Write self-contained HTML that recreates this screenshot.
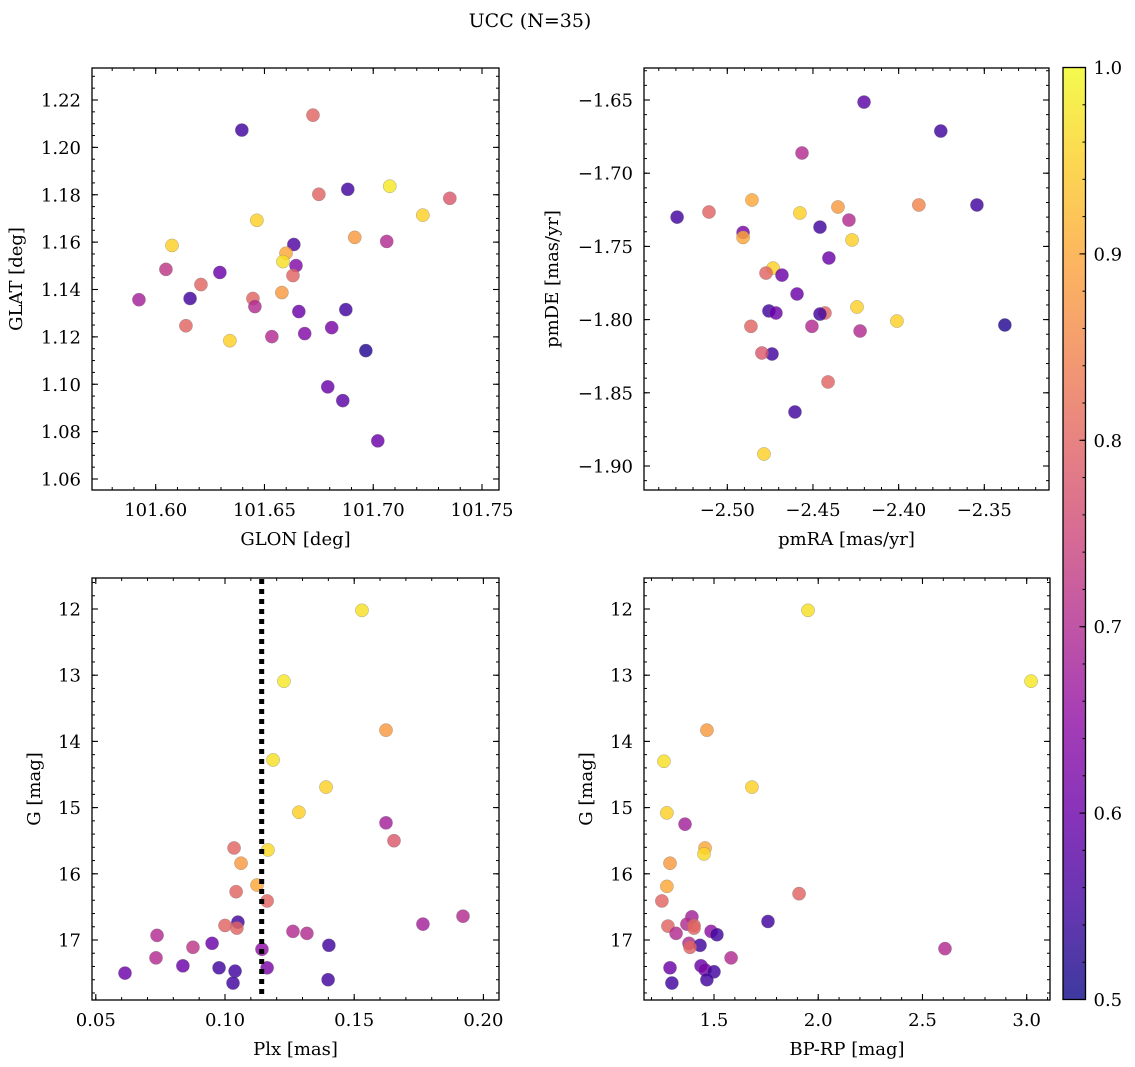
<!DOCTYPE html>
<html><head><meta charset="utf-8"><style>
html,body{margin:0;padding:0;background:#fff;}
svg{display:block;font-family:"DejaVu Serif","Liberation Serif",serif;}
</style></head><body>
<svg id="fig" width="1135" height="1067" viewBox="0 0 1135 1067" xmlns="http://www.w3.org/2000/svg">
<defs>
<linearGradient id="plasma" x1="0" y1="1" x2="0" y2="0">
<stop offset="0" stop-color="#0d0887"/><stop offset="0.1" stop-color="#41049d"/><stop offset="0.2" stop-color="#6a00a8"/><stop offset="0.3" stop-color="#8f0da4"/><stop offset="0.4" stop-color="#b12a90"/><stop offset="0.5" stop-color="#cc4778"/><stop offset="0.6" stop-color="#e16462"/><stop offset="0.7" stop-color="#f2844b"/><stop offset="0.8" stop-color="#fca636"/><stop offset="0.9" stop-color="#fcce25"/><stop offset="1" stop-color="#f0f921"/>
</linearGradient>
</defs>
<text x="530" y="27" font-size="19" text-anchor="middle">UCC (N=35)</text>
</svg>
<script>
// Panel 1: GLON vs GLAT
const glon = [101.6396,101.6723,101.6883,101.7076,101.6750,101.7352,101.7228,101.6465,101.6075,101.6635,101.6915,101.7062,101.6047,101.6295,101.6599,101.6585,101.6645,101.6631,101.6208,101.6580,101.5923,101.6158,101.6447,101.6456,101.6658,101.6874,101.6139,101.6685,101.6809,101.6534,101.6341,101.6966,101.6791,101.6860,101.7021];
const glat = [1.2073,1.2136,1.1823,1.1836,1.1802,1.1785,1.1714,1.1692,1.1586,1.1590,1.1620,1.1603,1.1485,1.1472,1.1553,1.1518,1.1501,1.1459,1.1421,1.1387,1.1357,1.1362,1.1362,1.1328,1.1307,1.1315,1.1247,1.1214,1.1239,1.1201,1.1184,1.1142,1.0989,1.0931,1.0761];
const prob1 = [0.55,0.8,0.55,0.98,0.8,0.78,0.95,0.95,0.95,0.57,0.88,0.7,0.72,0.6,0.9,0.97,0.63,0.8,0.8,0.88,0.68,0.55,0.8,0.7,0.6,0.55,0.8,0.63,0.62,0.7,0.95,0.52,0.6,0.58,0.6];
// Panel 2: pmRA vs pmDE
const pmra = [-2.4202,-2.3754,-2.4564,-2.5293,-2.5107,-2.4856,-2.4576,-2.4354,-2.3882,-2.3543,-2.4908,-2.4908,-2.4459,-2.4290,-2.4272,-2.4407,-2.4733,-2.4774,-2.4681,-2.4593,-2.4243,-2.4757,-2.4716,-2.4430,-2.4459,-2.4010,-2.4506,-2.4862,-2.4225,-2.3380,-2.4739,-2.4798,-2.4412,-2.4605,-2.4786];
const pmde = [-1.6514,-1.6712,-1.6862,-1.7300,-1.7265,-1.7183,-1.7272,-1.7231,-1.7217,-1.7217,-1.7405,-1.7439,-1.7368,-1.7320,-1.7456,-1.7579,-1.7648,-1.7682,-1.7696,-1.7825,-1.7914,-1.7941,-1.7955,-1.7955,-1.7962,-1.8010,-1.8046,-1.8046,-1.8078,-1.8037,-1.8235,-1.8228,-1.8426,-1.8631,-1.8918];
const prob2 = [0.58,0.55,0.7,0.55,0.8,0.9,0.95,0.88,0.85,0.55,0.62,0.9,0.55,0.7,0.95,0.6,0.95,0.8,0.6,0.6,0.95,0.55,0.6,0.8,0.55,0.95,0.7,0.8,0.7,0.52,0.55,0.78,0.8,0.55,0.95];
// Panel 3: Plx vs G
const plx = [0.1530,0.1228,0.1623,0.1186,0.1391,0.1286,0.1623,0.1654,0.1035,0.1166,0.1062,0.1124,0.1043,0.1163,0.1921,0.1766,0.1050,0.1000,0.1046,0.1263,0.1317,0.0737,0.0950,0.1402,0.0876,0.1143,0.0733,0.0837,0.0977,0.1163,0.0613,0.1039,0.1031,0.1399];
const gmag3 = [12.02,13.09,13.83,14.28,14.69,15.07,15.23,15.50,15.61,15.64,15.84,16.17,16.27,16.41,16.64,16.76,16.73,16.78,16.82,16.87,16.90,16.93,17.05,17.08,17.11,17.14,17.27,17.39,17.42,17.42,17.50,17.47,17.65,17.60];
const prob3 = [0.97,0.98,0.88,0.97,0.95,0.95,0.68,0.78,0.8,0.96,0.88,0.9,0.8,0.8,0.7,0.68,0.55,0.8,0.8,0.7,0.7,0.7,0.6,0.55,0.72,0.65,0.7,0.6,0.55,0.62,0.6,0.55,0.55,0.55];
const plxCut = [0.1142];
// Panel 4: BP-RP vs G
const bprp = [1.951,3.021,1.466,1.260,1.682,1.274,1.361,1.457,1.452,1.289,1.274,1.908,1.250,1.394,1.759,1.370,1.404,1.279,1.404,1.486,1.318,1.514,1.380,1.433,1.385,2.608,1.582,1.289,1.438,1.457,1.500,1.466,1.298];
const gmag4 = [12.02,13.09,13.83,14.30,14.69,15.08,15.25,15.61,15.70,15.84,16.19,16.30,16.41,16.65,16.72,16.76,16.78,16.79,16.82,16.87,16.90,16.92,17.05,17.08,17.11,17.13,17.27,17.42,17.39,17.45,17.48,17.60,17.65];
const prob4 = [0.97,0.98,0.88,0.97,0.95,0.95,0.68,0.9,0.96,0.88,0.9,0.8,0.8,0.68,0.55,0.7,0.8,0.8,0.8,0.65,0.7,0.55,0.7,0.55,0.8,0.7,0.7,0.6,0.6,0.62,0.55,0.55,0.55];
const cbTicks = [0.5,0.6,0.7,0.8,0.9,1.0];

const NS = "http://www.w3.org/2000/svg";
const svg = document.getElementById('fig');
const FS = 18;
function el(tag, attrs, parent){ const e=document.createElementNS(NS,tag); for(const k in attrs) e.setAttribute(k,attrs[k]); (parent||svg).appendChild(e); return e; }
const stops=[[0,[13,8,135]],[0.1,[65,4,157]],[0.2,[106,0,168]],[0.3,[143,13,164]],[0.4,[177,42,144]],[0.5,[204,71,120]],[0.6,[225,100,98]],[0.7,[242,132,75]],[0.8,[252,166,54]],[0.9,[252,206,37]],[1,[240,249,33]]];
function plasma(p){ let t=Math.max(0,Math.min(1,(p-0.5)/0.5)); for(let i=0;i<stops.length-1;i++){ const a=stops[i],b=stops[i+1]; if(t<=b[0]){ const f=(t-a[0])/(b[0]-a[0]); const c=a[1].map((v,j)=>Math.round(v+(b[1][j]-v)*f)); return `rgb(${c[0]},${c[1]},${c[2]})`; } } return 'rgb(240,249,33)'; }
function lin(va,pa,vb,pb){ return v=>pa+(v-va)*(pb-pa)/(vb-va); }
function fmt(v,d){ const s=Math.abs(v).toFixed(d); return (v<-1e-9?'\u2212':'')+s; }

function panel(c){
  const g=el('g',{});  
  const sx=lin(c.xa[0],c.xa[1],c.xb[0],c.xb[1]), sy=lin(c.ya[0],c.ya[1],c.yb[0],c.yb[1]);
  const L=c.box[0],T=c.box[1],R=c.box[2],B=c.box[3];
  const pg=el('g',{},g);  
  for(let i=0;i<c.xs.length;i++){
    const pt=el('circle',{cx:sx(c.xs[i]),cy:sy(c.ys[i]),r:6.6,fill:plasma(c.ps[i]),'fill-opacity':0.82,stroke:'#777','stroke-opacity':0.6,'stroke-width':0.5},pg);
    
    
  }
  if(c.extra) c.extra(g,sx,sy);
  const fr=el('rect',{x:L,y:T,width:R-L,height:B-T,fill:'none',stroke:'#000','stroke-width':1.3},g);
   
  const xt=el('g',{},g);  
  const nmx=Math.round((c.xr[1]-c.xr[0])/c.xminor);
  for(let k=0;k<=nmx;k++){ const v=c.xr[0]+k*c.xminor; const p=sx(v); if(p<L+0.5||p>R-0.5) continue; el('line',{x1:p,x2:p,y1:B,y2:B-3,stroke:'#000','stroke-width':1},xt); el('line',{x1:p,x2:p,y1:T,y2:T+3,stroke:'#000','stroke-width':1},xt); }
  c.xticks.forEach(v=>{ const p=sx(v); el('line',{x1:p,x2:p,y1:B,y2:B-6,stroke:'#000','stroke-width':1.1},xt); el('line',{x1:p,x2:p,y1:T,y2:T+6,stroke:'#000','stroke-width':1.1},xt);
    const t=el('text',{x:p,y:B+26,'font-size':FS,'text-anchor':'middle'},xt); t.textContent=fmt(v,c.xd);   });
  const xl=el('text',{x:(L+R)/2,y:B+55,'font-size':FS,'text-anchor':'middle'},g); xl.textContent=c.xlabel;  
  const yt=el('g',{},g);  
  const nmy=Math.round((c.yr[1]-c.yr[0])/c.yminor);
  for(let k=0;k<=nmy;k++){ const v=c.yr[0]+k*c.yminor; const p=sy(v); if(p<T+0.5||p>B-0.5) continue; el('line',{x1:L,x2:L+3,y1:p,y2:p,stroke:'#000','stroke-width':1},yt); el('line',{x1:R,x2:R-3,y1:p,y2:p,stroke:'#000','stroke-width':1},yt); }
  c.yticks.forEach(v=>{ const p=sy(v); el('line',{x1:L,x2:L+6,y1:p,y2:p,stroke:'#000','stroke-width':1.1},yt); el('line',{x1:R,x2:R-6,y1:p,y2:p,stroke:'#000','stroke-width':1.1},yt);
    const t=el('text',{x:L-11,y:p+6.5,'font-size':FS,'text-anchor':'end'},yt); t.textContent=fmt(v,c.yd);   });
  const yl=el('text',{x:0,y:0,'font-size':FS,'text-anchor':'middle',transform:`translate(${c.ylx},${(T+B)/2}) rotate(-90)`},g); yl.textContent=c.ylabel;  
}

panel({name:'panel-glon-glat',box:[92,68,499,490],xs:glon,ys:glat,ps:prob1,xa:[101.60,155.7],xb:[101.75,482],ya:[1.22,100],yb:[1.06,479],
  xr:[101.56,101.77],xminor:0.01,xticks:[101.60,101.65,101.70,101.75],xd:2,yr:[1.05,1.24],yminor:0.005,yticks:[1.06,1.08,1.10,1.12,1.14,1.16,1.18,1.20,1.22],yd:2,xlabel:'GLON [deg]',ylabel:'GLAT [deg]',ylx:22});
panel({name:'panel-pmra-pmde',box:[644,68,1049,490],xs:pmra,ys:pmde,ps:prob2,xa:[-2.50,727.3],xb:[-2.35,984.3],ya:[-1.65,100],yb:[-1.90,466],
  xr:[-2.56,-2.30],xminor:0.01,xticks:[-2.50,-2.45,-2.40,-2.35],xd:2,yr:[-1.94,-1.61],yminor:0.01,yticks:[-1.90,-1.85,-1.80,-1.75,-1.70,-1.65],yd:2,xlabel:'pmRA [mas/yr]',ylabel:'pmDE [mas/yr]',ylx:558});
panel({name:'panel-plx-g',box:[92,578,499,1000],xs:plx,ys:gmag3,ps:prob3,xa:[0.10,225],xb:[0.15,354.2],ya:[12,609],yb:[17,940],
  xr:[0.04,0.21],xminor:0.01,xticks:[0.05,0.10,0.15,0.20],xd:2,yr:[11,18],yminor:0.2,yticks:[12,13,14,15,16,17],yd:0,xlabel:'Plx [mas]',ylabel:'G [mag]',ylx:40,
  extra:(g,sx,sy)=>{ const ln=el('line',{x1:sx(plxCut[0]),x2:sx(plxCut[0]),y1:579,y2:999,stroke:'#000','stroke-width':5,'stroke-dasharray':'5,5'},g);   }});
panel({name:'panel-bprp-g',box:[644,578,1050,1000],xs:bprp,ys:gmag4,ps:prob4,xa:[1.5,714],xb:[3.0,1026.7],ya:[12,609],yb:[17,940],
  xr:[1.1,3.2],xminor:0.1,xticks:[1.5,2.0,2.5,3.0],xd:1,yr:[11,18],yminor:0.2,yticks:[12,13,14,15,16,17],yd:0,xlabel:'BP-RP [mag]',ylabel:'G [mag]',ylx:592});

(function(){
  const g=el('g',{});  
  const L=1063,R=1085.5,T=67.5,B=999.5; const sy=lin(0.5,B,1.0,T);
  el('rect',{x:L,y:T,width:R-L,height:B-T,fill:'url(#plasma)','fill-opacity':0.8},g);
  el('rect',{x:L,y:T,width:R-L,height:B-T,fill:'none',stroke:'#000','stroke-width':1.3},g);
  for(let k=1;k<25;k++){ const p=sy(0.5+k*0.02); el('line',{x1:R,x2:R-3,y1:p,y2:p,stroke:'#000','stroke-width':1},g); }
  cbTicks.forEach(v=>{ const p=sy(v); el('line',{x1:R,x2:R-6,y1:p,y2:p,stroke:'#000','stroke-width':1.1},g);
    const t=el('text',{x:R+8,y:p+6.5,'font-size':FS},g); t.textContent=v.toFixed(1);   });
})();
</script>
</body></html>
